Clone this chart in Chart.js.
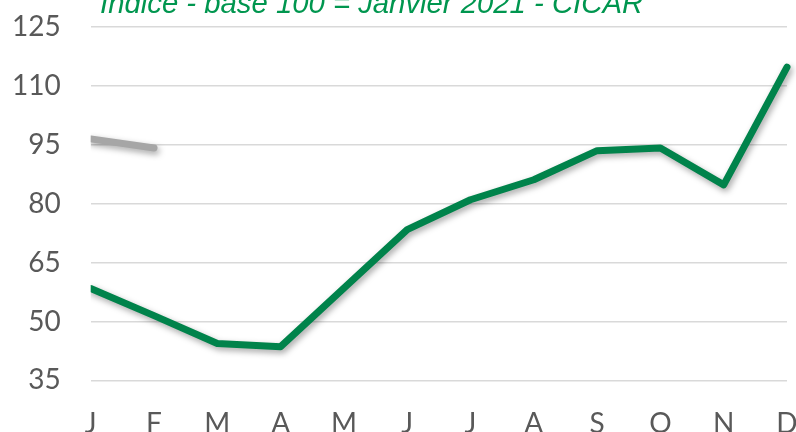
<!DOCTYPE html>
<html>
<head>
<meta charset="utf-8">
<script src="https://cdn.jsdelivr.net/npm/chart.js@4/dist/chart.umd.min.js"></script>
<style>
  html, body { margin: 0; padding: 0; background: #ffffff; overflow: hidden; }
  #wrap { position: relative; width: 796px; height: 432px; overflow: hidden; }
  #title { position: absolute; left: 100px; top: -12px; font-family: "Liberation Sans", Arial, sans-serif; font-style: italic; font-size: 29.3px; line-height: 29px; color: #00964F; white-space: nowrap; z-index: 2; }
  canvas { position: absolute; left: 0; top: 0; }
</style>
</head>
<body>
<div id="wrap">
  <div id="title">Indice - base 100 = Janvier 2021 - CICAR</div>
  <canvas id="c" width="796" height="432"></canvas>
</div>
<script>
const months = ["J", "F", "M", "A", "M", "J", "J", "A", "S", "O", "N", "D"];
const seriesCurrent = [58.4, 51.5, 44.4, 43.6, 58.5, 73.4, 81.0, 86.1, 93.5, 94.2, 84.8, 114.8];
const seriesPrevious = [96.5, 94.2, null, null, null, null, null, null, null, null, null, null];
const yTicks = [35, 50, 65, 80, 95, 110, 125];

const shadowPlugin = {
  id: 'lineShadow',
  beforeDatasetDraw(chart) {
    const ctx = chart.ctx;
    ctx.save();
    ctx.shadowColor = 'rgba(0,0,0,0.35)';
    ctx.shadowBlur = 6;
    ctx.shadowOffsetX = 2;
    ctx.shadowOffsetY = 3;
  },
  afterDatasetDraw(chart) {
    chart.ctx.restore();
  }
};

new Chart(document.getElementById('c'), {
  type: 'line',
  data: {
    labels: months,
    datasets: [
      {
        data: seriesPrevious,
        borderColor: '#A6A6A6',
        borderWidth: 7,
        pointRadius: 0,
        borderCapStyle: 'round',
        borderJoinStyle: 'round',
        spanGaps: false,
        tension: 0,
        clip: { left: 0, top: 20, right: 20, bottom: 20 }
      },
      {
        data: seriesCurrent,
        borderColor: '#00834B',
        borderWidth: 7,
        pointRadius: 0,
        borderCapStyle: 'round',
        borderJoinStyle: 'round',
        tension: 0,
        clip: { left: 0, top: 20, right: 20, bottom: 20 }
      }
    ]
  },
  options: {
    responsive: false,
    animation: false,
    devicePixelRatio: 1,
    layout: { autoPadding: false, padding: { left: -18, right: 9, top: 27, bottom: -36 } },
    plugins: { legend: { display: false }, tooltip: { enabled: false }, title: { display: false } },
    scales: {
      x: {
        offset: false,
        grid: { display: false, drawTicks: false },
        border: { display: false },
        ticks: { color: '#595959', font: { family: 'Lato', size: 28 }, padding: 27, autoSkip: false, maxRotation: 0 },
        afterFit(scale) { scale.paddingLeft = 0; scale.paddingRight = 0; }
      },
      y: {
        min: 35,
        max: 125,
        afterBuildTicks(scale) { scale.ticks = yTicks.map(v => ({ value: v })); },
        grid: { color: '#D9D9D9', lineWidth: 1.5, drawTicks: false },
        border: { display: false },
        ticks: { color: '#595959', font: { family: 'Lato', size: 28 }, padding: 30 },
        afterFit(scale) { scale.paddingTop = 0; scale.paddingBottom = 0; }
      }
    }
  },
  plugins: [shadowPlugin]
});
</script>
</body>
</html>
